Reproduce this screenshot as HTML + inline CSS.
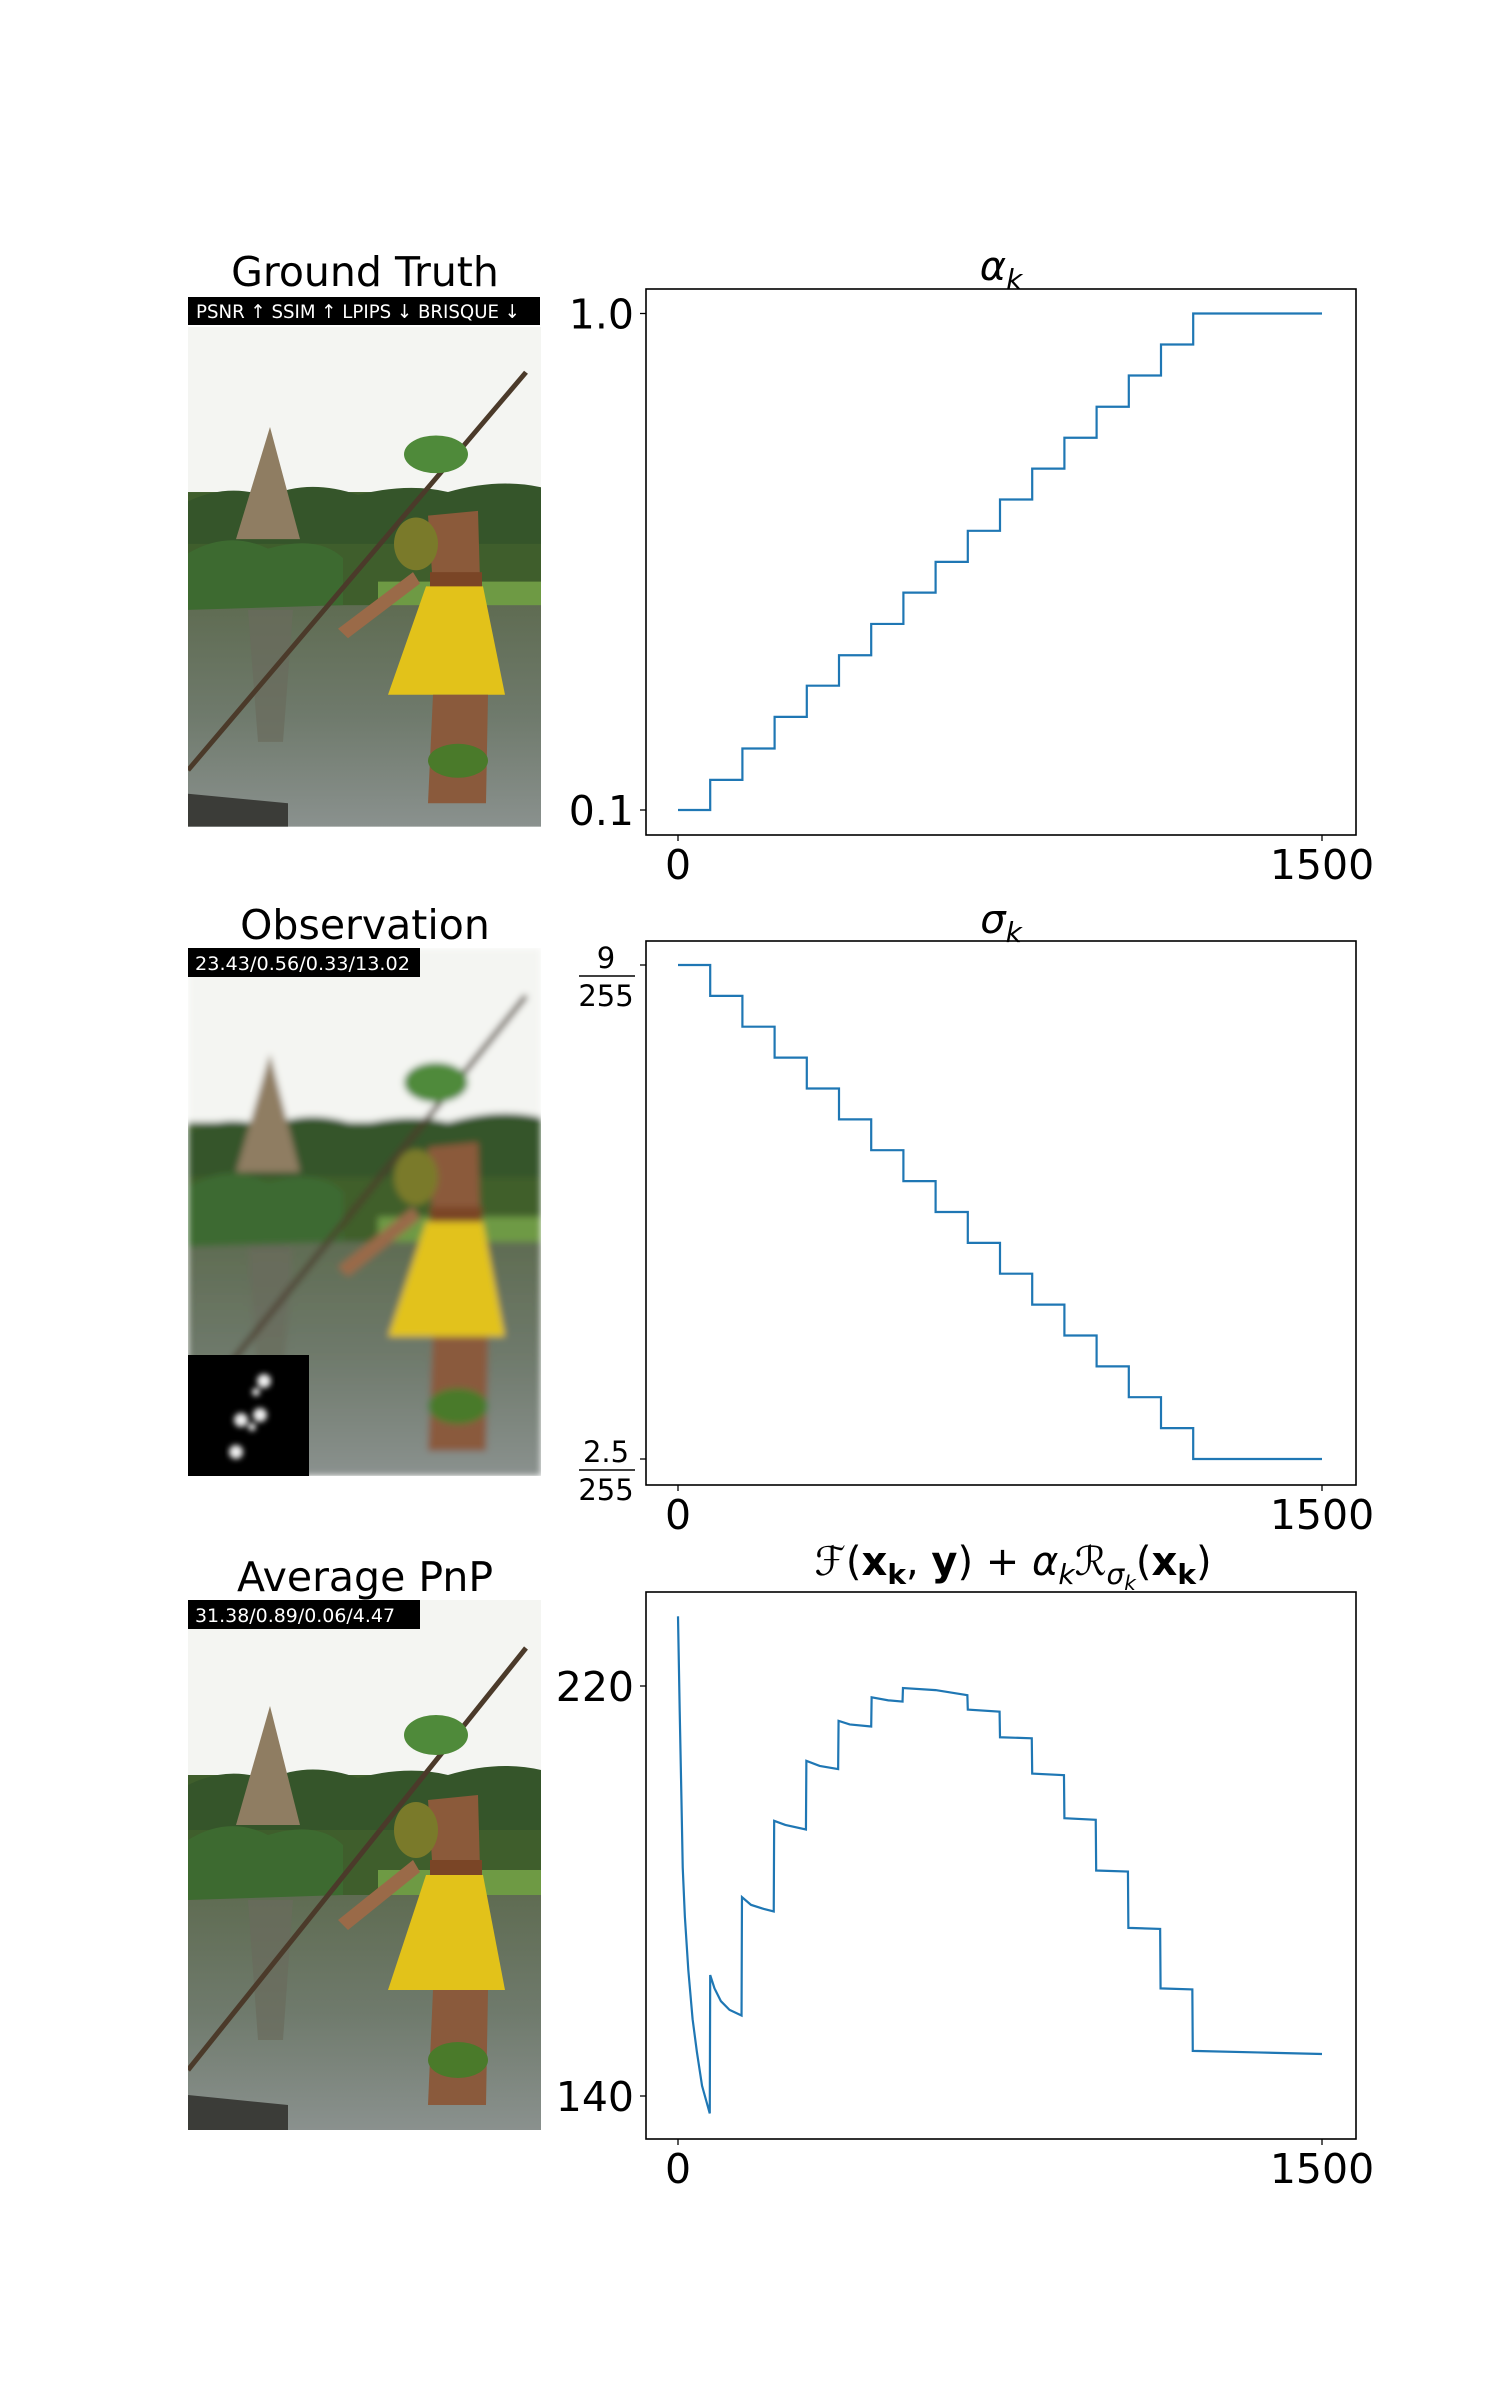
<!DOCTYPE html>
<html><head><meta charset="utf-8">
<style>
html,body{margin:0;padding:0;background:#fff;}
svg{display:block;font-family:"DejaVu Sans","Liberation Sans",sans-serif;}
</style></head>
<body>
<svg id="fig" width="1500" height="2400" viewBox="0 0 1500 2400" xmlns="http://www.w3.org/2000/svg">
<defs>
  <filter id="blur" x="0" y="0" width="1" height="1"><feGaussianBlur stdDeviation="3.5"/></filter>
  <filter id="kblur"><feGaussianBlur stdDeviation="3"/></filter>
  <clipPath id="imgclip"><rect x="0" y="0" width="353" height="530"/></clipPath>
  <linearGradient id="water" x1="0" y1="0" x2="0" y2="1">
    <stop offset="0" stop-color="#5f6c52"/><stop offset="0.5" stop-color="#6f7a6c"/><stop offset="1" stop-color="#8a918e"/>
  </linearGradient>
  <g id="scene">
    <rect x="0" y="0" width="353" height="530" fill="#f4f5f2"/>
    <rect x="0" y="175" width="353" height="125" fill="#3f5e2c"/>
    <path d="M0 185 Q40 165 80 180 Q120 160 170 178 Q220 165 260 175 Q310 160 353 170 L353 230 L0 230Z" fill="#35552a"/>
    <rect x="190" y="270" width="163" height="50" fill="#6e9a44"/>
    <rect x="0" y="295" width="353" height="235" fill="url(#water)"/>
    <path d="M0 240 Q40 215 80 235 Q130 220 155 245 L155 295 L0 300Z" fill="#3d6a30"/>
    <path d="M82 106 L112 225 L48 225Z" fill="#8f7d62"/>
    <path d="M60 300 L105 300 L95 440 L70 440Z" fill="#6a6b5c" opacity="0.7"/>
    <line x1="338" y1="48" x2="0" y2="470" stroke="#4b3a2a" stroke-width="5"/>
    <path d="M240 200 L290 195 L292 270 L245 275Z" fill="#8b5a3a"/>
    <rect x="242" y="260" width="52" height="20" fill="#7a4526"/>
    <ellipse cx="248" cy="135" rx="32" ry="20" fill="#4f8a3a"/>
    <ellipse cx="228" cy="230" rx="22" ry="28" fill="#7a7a2a"/>
    <path d="M150 320 L225 260 L232 272 L160 330Z" fill="#9a6a48"/>
    <path d="M238 275 L295 275 L317 390 L200 390Z" fill="#e2c21a"/>
    <path d="M245 390 L300 390 L298 505 L240 505Z" fill="#8a5a3c"/>
    <ellipse cx="270" cy="460" rx="30" ry="18" fill="#4a7a2a"/>
    <path d="M0 495 L100 505 L100 530 L0 530Z" fill="#3b3c38"/>
  </g>
</defs>

<!-- Left column: images -->
<text x="365" y="286" font-size="41" text-anchor="middle">Ground Truth</text>
<g transform="translate(188,327) scale(1,0.943)" clip-path="url(#imgclip)"><use href="#scene"/></g>
<rect x="188" y="297" width="352" height="28" fill="#000"/>
<text x="196" y="318" font-size="19" fill="#fff" textLength="324" lengthAdjust="spacingAndGlyphs">PSNR ↑ SSIM ↑ LPIPS ↓ BRISQUE ↓</text>

<text x="365" y="939" font-size="41" text-anchor="middle">Observation</text>
<g transform="translate(188,948) scale(1,0.996)" clip-path="url(#imgclip)"><g filter="url(#blur)"><use href="#scene"/></g></g>
<rect x="188" y="948" width="232" height="29" fill="#000"/>
<text x="195" y="970" font-size="19" fill="#fff" textLength="215" lengthAdjust="spacingAndGlyphs">23.43/0.56/0.33/13.02</text>
<g>
  <rect x="188" y="1355" width="121" height="121" fill="#000"/>
  <g filter="url(#kblur)" fill="#eee">
    <circle cx="264" cy="1381" r="7"/><circle cx="256" cy="1392" r="4"/><circle cx="260" cy="1415" r="7"/>
    <circle cx="241" cy="1420" r="7"/><circle cx="252" cy="1427" r="4"/><circle cx="236" cy="1452" r="7"/>
  </g>
</g>

<text x="365" y="1591" font-size="41" text-anchor="middle">Average PnP</text>
<g transform="translate(188,1600) scale(1,1)" clip-path="url(#imgclip)"><use href="#scene"/></g>
<rect x="188" y="1600" width="232" height="29" fill="#000"/>
<text x="195" y="1622" font-size="19" fill="#fff" textLength="200" lengthAdjust="spacingAndGlyphs">31.38/0.89/0.06/4.47</text>

<g id="charts"></g>
</svg>
<script>
// ---- Chart data ----
const alphaLevels = [0.1,0.115,0.133,0.154,0.178,0.205,0.237,0.274,0.316,0.365,0.422,0.487,0.562,0.649,0.750,0.866,1.0];
const alphaStepStarts = [0,75,150,225,300,375,450,525,600,675,750,825,900,975,1050,1125,1200];
const sigmaLevels255 = [9,8.594,8.188,7.781,7.375,6.969,6.563,6.156,5.75,5.344,4.938,4.531,4.125,3.719,3.313,2.906,2.5];
const sigmaStepStarts = [0,75,150,225,300,375,450,525,600,675,750,825,900,975,1050,1125,1200];
const objIters = [0,4,8,11,16,24,34,44,56,66,74,75,85,100,120,148,149,170,200,223,224,250,298,299,330,373,374,400,450,451,490,523,524,600,674,675,749,750,824,825,899,900,973,974,1048,1049,1123,1124,1198,1199,1350,1500];
const objValues = [233.6,215,198,184.6,175,164.6,155,148.6,142,139,136.6,163.6,161,158.5,156.8,155.7,178.8,177.3,176.5,176,193.7,192.9,192,205.4,204.4,203.8,213.2,212.5,212.1,217.8,217.2,216.96,219.6,219.2,218.2,215.4,215,210,209.8,202.9,202.6,194.2,193.9,184,183.8,172.8,172.6,161,160.8,148.8,148.5,148.2];
const xTicks = [0,1500];
const alphaTicks = [0.1,1.0];
const alphaTickLabels = ["0.1","1.0"];
const sigmaTicks = [2.5,9];
const sigmaTickNums = ["2.5","9"];
const objTicks = [140,220];
const objTickLabels = ["140","220"];

const NS="http://www.w3.org/2000/svg";
const root=document.getElementById('charts');
function mk(tag,attrs,parent){const e=document.createElementNS(NS,tag);for(const k in attrs)e.setAttribute(k,attrs[k]);(parent||root).appendChild(e);return e;}
const BL=646,BR=1356;
function xs(v){return 678+(v-0)*(1322-678)/1500;}
function mkAxes(name,top,bottom){
  const g=mk('g',{});
  
  
  const r=mk('rect',{x:BL,y:top,width:BR-BL,height:bottom-top,fill:'none',stroke:'#000','stroke-width':1.6},g);
  
  
  xTicks.forEach(t=>{
    mk('line',{x1:xs(t),x2:xs(t),y1:bottom,y2:bottom+6,stroke:'#000','stroke-width':1.3},g);
    const tx=mk('text',{x:xs(t),y:bottom+44,'font-size':41,'text-anchor':'middle'},g);
    tx.textContent=String(t);
    
    
  });
  return g;
}
// Chart 1: alpha (log scale)
const a1=mkAxes('alpha-chart',289,835);
function ya(v){return 810+(Math.log10(v)-Math.log10(0.1))*(313.5-810)/(Math.log10(1.0)-Math.log10(0.1));}
alphaTicks.forEach((t,i)=>{
  mk('line',{x1:BL-6,x2:BL,y1:ya(t),y2:ya(t),stroke:'#000','stroke-width':1.3},a1);
  const tx=mk('text',{x:634,y:ya(t)+15,'font-size':41,'text-anchor':'end'},a1);
  tx.textContent=alphaTickLabels[i];
  
  
});
let d='';
alphaLevels.forEach((v,i)=>{const x0=xs(alphaStepStarts[i]);const x1=xs(i+1<alphaStepStarts.length?alphaStepStarts[i+1]:1500);d+=(i?'L':'M')+x0+' '+ya(v)+'L'+x1+' '+ya(v);});
const p1=mk('path',{d:d,fill:'none',stroke:'#1f77b4','stroke-width':2.2},a1);


const t1=mk('text',{x:1001,y:280,'font-size':40,'text-anchor':'middle','font-style':'italic'},a1);
t1.innerHTML='α<tspan font-size="28" dy="9">k</tspan>';



// Chart 2: sigma
const a2=mkAxes('sigma-chart',941,1485);
function ysg(v){return 1459+(v-2.5)*(965-1459)/(9-2.5);}
sigmaTicks.forEach((t,i)=>{
  const y=ysg(t);
  mk('line',{x1:BL-6,x2:BL,y1:y,y2:y,stroke:'#000','stroke-width':1.3},a2);
  const n=mk('text',{x:606,y:y+3,'font-size':29,'text-anchor':'middle'},a2);
  n.textContent=sigmaTickNums[i];
  
  
  mk('line',{x1:579,x2:635,y1:y+11,y2:y+11,stroke:'#000','stroke-width':1.6},a2);
  const dn=mk('text',{x:606,y:y+41,'font-size':29,'text-anchor':'middle'},a2);
  dn.textContent='255';
  
  
});
d='';
sigmaLevels255.forEach((v,i)=>{const x0=xs(sigmaStepStarts[i]);const x1=xs(i+1<sigmaStepStarts.length?sigmaStepStarts[i+1]:1500);d+=(i?'L':'M')+x0+' '+ysg(v)+'L'+x1+' '+ysg(v);});
const p2=mk('path',{d:d,fill:'none',stroke:'#1f77b4','stroke-width':2.2},a2);


const t2=mk('text',{x:1001,y:933,'font-size':40,'text-anchor':'middle','font-style':'italic'},a2);
t2.innerHTML='σ<tspan font-size="28" dy="9">k</tspan>';



// Chart 3: objective
const a3=mkAxes('objective-chart',1592,2139);
function yo(v){return 2096+(v-140)*(1686-2096)/(220-140);}
objTicks.forEach((t,i)=>{
  mk('line',{x1:BL-6,x2:BL,y1:yo(t),y2:yo(t),stroke:'#000','stroke-width':1.3},a3);
  const tx=mk('text',{x:634,y:yo(t)+15,'font-size':41,'text-anchor':'end'},a3);
  tx.textContent=objTickLabels[i];
  
  
});
d='';
objIters.forEach((it,i)=>{d+=(i?'L':'M')+xs(it)+' '+yo(objValues[i]);});
const p3=mk('path',{d:d,fill:'none',stroke:'#1f77b4','stroke-width':2.2},a3);


const t3=mk('text',{x:1013,y:1575,'font-size':40,'text-anchor':'middle'},a3);
t3.innerHTML='<tspan font-style="italic">ℱ</tspan>(<tspan font-weight="bold">x</tspan><tspan font-weight="bold" font-size="28" dy="9">k</tspan><tspan dy="-9">, </tspan><tspan font-weight="bold">y</tspan>) + <tspan font-style="italic">α</tspan><tspan font-style="italic" font-size="28" dy="9">k</tspan><tspan font-style="italic" dy="-9">ℛ</tspan><tspan font-style="italic" font-size="28" dy="9">σ</tspan><tspan font-style="italic" font-size="20" dy="6">k</tspan><tspan dy="-15">(</tspan><tspan font-weight="bold">x</tspan><tspan font-weight="bold" font-size="28" dy="9">k</tspan><tspan dy="-9">)</tspan>';


</script>
</body></html>
